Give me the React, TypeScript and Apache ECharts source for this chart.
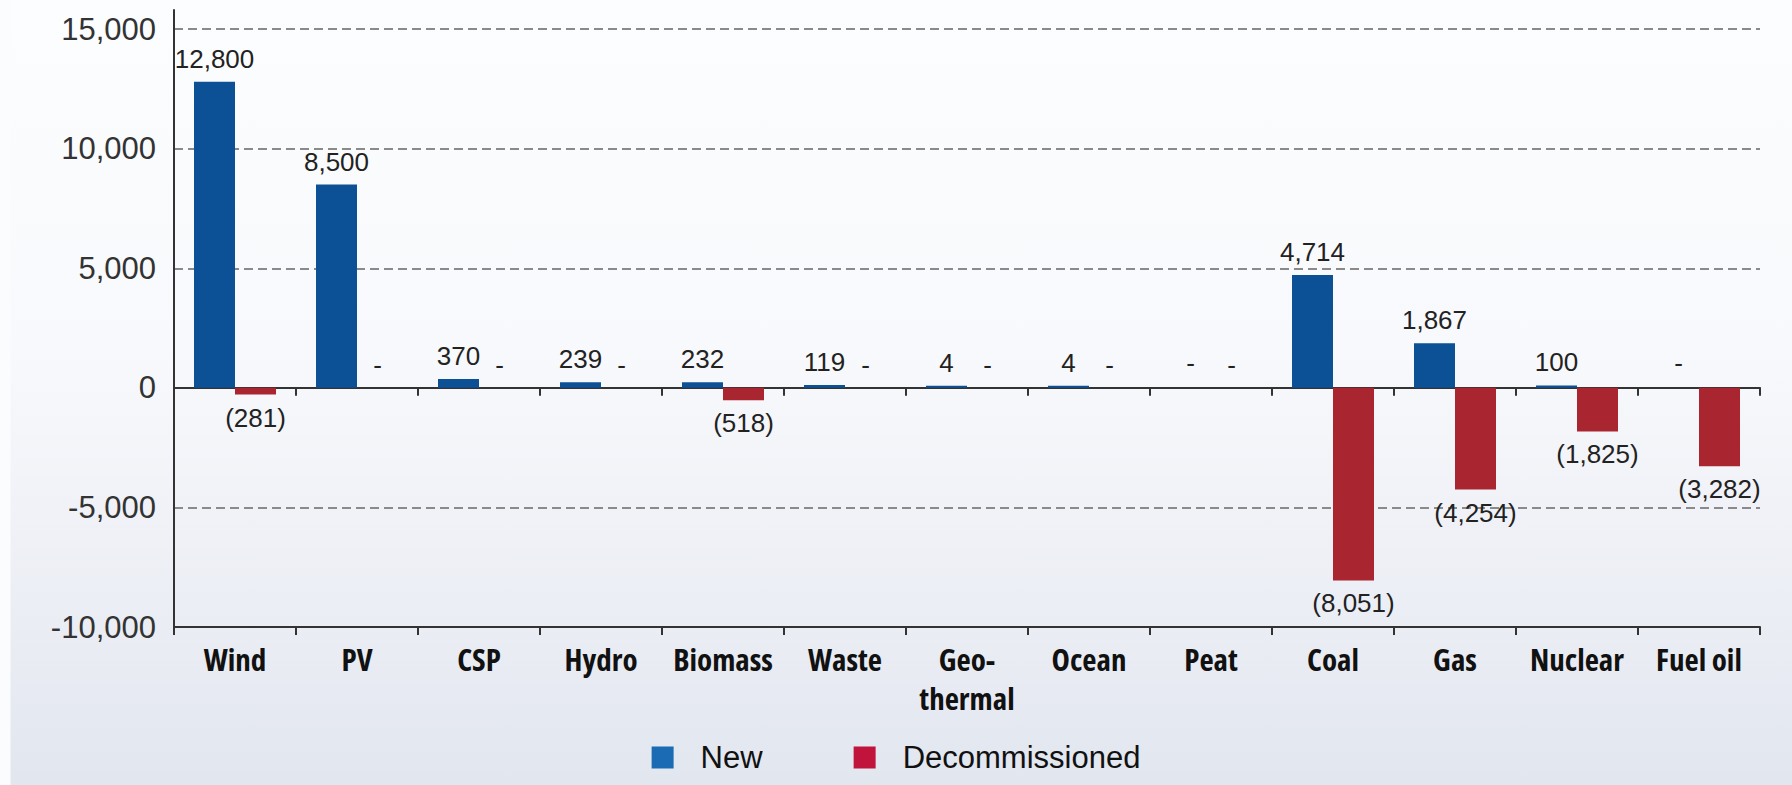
import React, { useEffect, useRef } from "react";
import * as echarts from "echarts";

const categories = ["Wind", "PV", "CSP", "Hydro", "Biomass", "Waste", "Geo-\nthermal", "Ocean", "Peat", "Coal", "Gas", "Nuclear", "Fuel oil"];
const newValues = [12800, 8500, 370, 239, 232, 119, 4, 4, 0, 4714, 1867, 100, 0];
const decommissionedValues = [-281, 0, 0, 0, -518, 0, 0, 0, 0, -8051, -4254, -1825, -3282];
const yMin = -10000;
const yMax = 15800;
const yStep = 5000;

const BLUE = "#0c5196";
const RED = "#a92630";
const LEGEND_BLUE = "#1a6ab4";
const LEGEND_RED = "#c0143c";

const fmt = (v: number) =>
  v === 0 ? "-" : v < 0 ? `(${Math.abs(v).toLocaleString("en-US")})` : v.toLocaleString("en-US");

export default function App() {
  const ref = useRef<HTMLDivElement>(null);
  useEffect(() => {
    if (!ref.current) return;
    const chart = echarts.init(ref.current, null, { renderer: "svg" });
    const valueLabel = {
      show: true,
      fontFamily: '"Liberation Sans", Arial, sans-serif',
      fontSize: 26,
      color: "#222",
      distance: 10,
      formatter: (p: any) => fmt(p.value),
    };
    chart.setOption({
      animation: false,
      backgroundColor: "transparent",
      grid: { left: 174, right: 32, top: 10, bottom: 158, containLabel: false, outerBoundsMode: "none" },
      legend: {
        left: "center",
        top: 737,
        icon: "rect",
        itemWidth: 22,
        itemHeight: 22,
        itemGap: 91,
        textStyle: {
          fontFamily: '"Liberation Sans", Arial, sans-serif',
          fontSize: 31,
          color: "#111",
          padding: [0, 0, 0, 22],
        },
        data: [
          { name: "New", itemStyle: { color: LEGEND_BLUE } },
          { name: "Decommissioned", itemStyle: { color: LEGEND_RED } },
        ],
      },
      xAxis: [
        {
          type: "category",
          data: categories,
          position: "bottom",
          axisLine: { onZero: false, lineStyle: { color: "#333", width: 2 } },
          axisTick: { show: true, length: 8, lineStyle: { color: "#333", width: 2 } },
          axisLabel: {
            margin: 12,
            fontFamily: "Open Sans; font-stretch: 75%",
            fontWeight: "bold",
            fontSize: 31,
            lineHeight: 39,
            color: "#111",
            interval: 0,
          },
        },
        {
          type: "category",
          data: categories,
          position: "bottom",
          axisLine: { onZero: true, lineStyle: { color: "#333", width: 2 } },
          axisTick: { show: true, length: 8, lineStyle: { color: "#333", width: 2 } },
          axisLabel: { show: false },
        },
      ],
      yAxis: {
        type: "value",
        min: yMin,
        max: yMax,
        interval: yStep,
        axisLine: { show: true, lineStyle: { color: "#333", width: 2 } },
        axisTick: { show: false },
        axisLabel: {
          margin: 18,
          fontFamily: '"Liberation Sans", Arial, sans-serif',
          fontSize: 31,
          color: "#333",
          showMaxLabel: false,
          formatter: (v: number) => (v % yStep === 0 ? v.toLocaleString("en-US") : ""),
        },
        splitLine: {
          show: true,
          lineStyle: {
            color: ["rgba(0,0,0,0)", "#8a8a8a", "rgba(0,0,0,0)", "#8a8a8a", "#8a8a8a", "#8a8a8a", "rgba(0,0,0,0)"],
            width: 2,
            type: [9, 5],
          },
        },
      },
      series: [
        {
          name: "New",
          type: "bar",
          xAxisIndex: 0,
          barWidth: 41,
          barGap: "0%",
          barMinHeight: 2,
          itemStyle: { color: BLUE },
          label: { ...valueLabel, position: "top" },
          data: newValues.map((v) => ({
            value: v,
            itemStyle: v === 0 ? { color: "rgba(0,0,0,0)" } : undefined,
          })),
        },
        {
          name: "Decommissioned",
          type: "bar",
          xAxisIndex: 0,
          barWidth: 41,
          barGap: "0%",
          itemStyle: { color: RED },
          label: { ...valueLabel },
          data: decommissionedValues.map((v) => ({
            value: v,
            label: { position: v < 0 ? "bottom" : "top" },
          })),
        },
      ],
    });
    return () => chart.dispose();
  }, []);
  return (
    <div
      style={{
        position: "absolute",
        left: 0,
        top: 0,
        width: 1792,
        height: 785,
        background:
          "linear-gradient(to right, #fbfcfd 0px, #fbfcfd 10px, rgba(255,255,255,0) 11px), linear-gradient(to bottom, #fcfdfe 0%, #f8f9fc 45%, #e2e6ef 100%)",
      }}
    >
      <div ref={ref} style={{ width: 1792, height: 785 }} />
    </div>
  );
}
